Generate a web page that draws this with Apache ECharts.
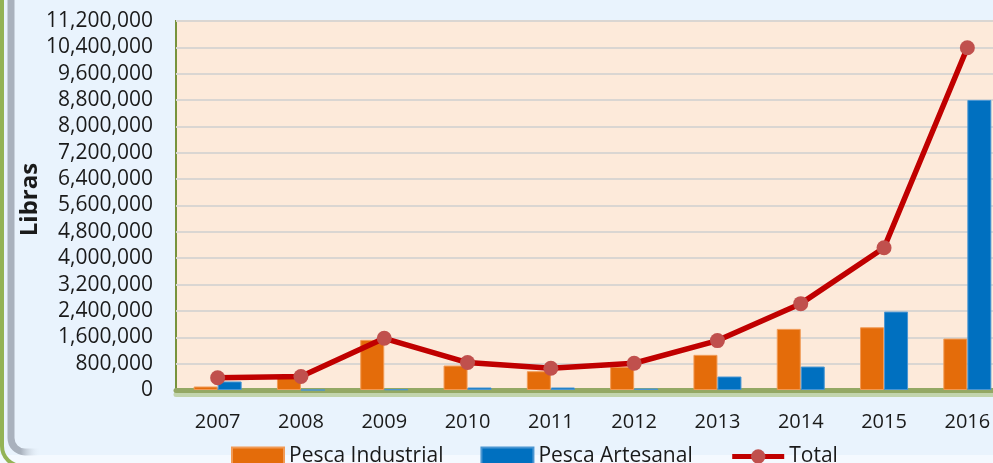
<!DOCTYPE html>
<html>
<head>
<meta charset="utf-8">
<script src="https://cdn.jsdelivr.net/npm/echarts@6/dist/echarts.min.js"></script>
<style>
  html, body { margin: 0; padding: 0; background: #E9F3FD; overflow: hidden; }
  #chart { width: 1010px; height: 463px; }
</style>
</head>
<body>
<div id="chart"></div>
<script>
"use strict";

/*-----data-----*/
var years = ['2007', '2008', '2009', '2010', '2011', '2012', '2013', '2014', '2015', '2016'];
var pescaIndustrial = [106000, 409000, 1521000, 742000, 570000, 703000, 1067000, 1855000, 1903000, 1561000];
var pescaArtesanal = [258000, 0, 20000, 76000, 76000, 45000, 409000, 712000, 2379000, 8803000];
var total = [370000, 409000, 1570000, 833000, 660000, 812000, 1500000, 2621000, 4318000, 10388000];
var yMax = 11200000;
var yStep = 800000;

var chart = echarts.init(document.getElementById('chart'));
var labelFont = '"Open Sans", sans-serif';

var option = {
	backgroundColor: '#E9F3FD',
	animation: false,
	graphic: [{
		type: 'rect',
		z: -10,
		shape: { x: 0, y: 455, width: 1100, height: 10 },
		style: { fill: '#F4F9FF' },
		silent: true
	}, {
		type: 'rect',
		z: -10,
		shape: { x: 2, y: -40, width: 1100, height: 506, r: 20 },
		style: { fill: 'none', stroke: '#93B356', lineWidth: 4 },
		silent: true
	}, {
		type: 'rect',
		z: -10,
		shape: { x: 11, y: -40, width: 1100, height: 492, r: 14 },
		style: {
			fill: 'none',
			lineWidth: 7,
			stroke: {
				type: 'linear', x: 0, y: 0, x2: 1, y2: 0,
				colorStops: [
					{ offset: 0, color: '#A9B1BD' },
					{ offset: 0.012, color: '#A9B1BD' },
					{ offset: 0.03, color: 'rgba(233,243,253,0)' },
					{ offset: 1, color: 'rgba(233,243,253,0)' }
				]
			}
		},
		silent: true
	}],
	grid: {
		show: true,
		left: 176,
		top: 21,
		bottom: 73,
		right: 1,
		backgroundColor: '#FDEADA',
		borderColor: '#77933C',
		borderWidth: 2
	},
	legend: {
		left: 226,
		top: 441,
		itemWidth: 52,
		itemHeight: 18,
		itemGap: 37,
		textStyle: {
			fontFamily: labelFont,
			fontSize: 21,
			color: '#1a1a1a'
		},
		data: [
			{ name: 'Pesca Industrial', icon: 'rect' },
			{ name: 'Pesca Artesanal', icon: 'rect' },
			{ name: 'Total', lineStyle: { width: 5 } }
		]
	},
	xAxis: {
		type: 'category',
		data: years,
		axisLine: {
			lineStyle: {
				color: '#94A864',
				width: 5,
				shadowColor: '#C2D4AC',
				shadowOffsetY: 4,
				shadowBlur: 0
			}
		},
		axisTick: { show: false },
		axisLabel: {
			margin: 22,
			fontFamily: labelFont,
			fontSize: 20,
			color: '#1a1a1a'
		}
	},
	yAxis: {
		type: 'value',
		min: 0,
		max: yMax,
		interval: yStep,
		name: 'Libras',
		nameLocation: 'middle',
		nameGap: 134,
		nameMoveOverlap: false,
		nameTextStyle: {
			fontFamily: labelFont,
			fontSize: 24,
			fontWeight: 'bold',
			color: '#1a1a1a',
			padding: [0, 0, 0, 12]
		},
		axisLine: { show: false },
		axisTick: { show: false },
		splitLine: {
			lineStyle: { color: '#DAD6D2', width: 2 }
		},
		axisLabel: {
			margin: 23,
			fontFamily: labelFont,
			fontSize: 21,
			color: '#1a1a1a',
			formatter: function (v) { return v.toLocaleString('en-US'); }
		}
	},
	series: [{
		name: 'Pesca Industrial',
		type: 'bar',
		data: pescaIndustrial,
		barWidth: 24,
		barGap: '0%',
		itemStyle: { color: '#E46C0A', borderColor: '#F19A55', borderWidth: 1 }
	}, {
		name: 'Pesca Artesanal',
		type: 'bar',
		data: pescaArtesanal,
		barWidth: 24,
		barGap: '0%',
		itemStyle: { color: '#0070C0', borderColor: '#4A96D2', borderWidth: 1 }
	}, {
		name: 'Total',
		type: 'line',
		data: total,
		symbol: 'circle',
		symbolSize: 15,
		lineStyle: { color: '#C00000', width: 5.5 },
		itemStyle: { color: '#C0504D' },
		z: 5
	}]
};
chart.setOption(option);
window.addEventListener('resize', function () {
	chart.resize();
});
</script>
</body>
</html>
